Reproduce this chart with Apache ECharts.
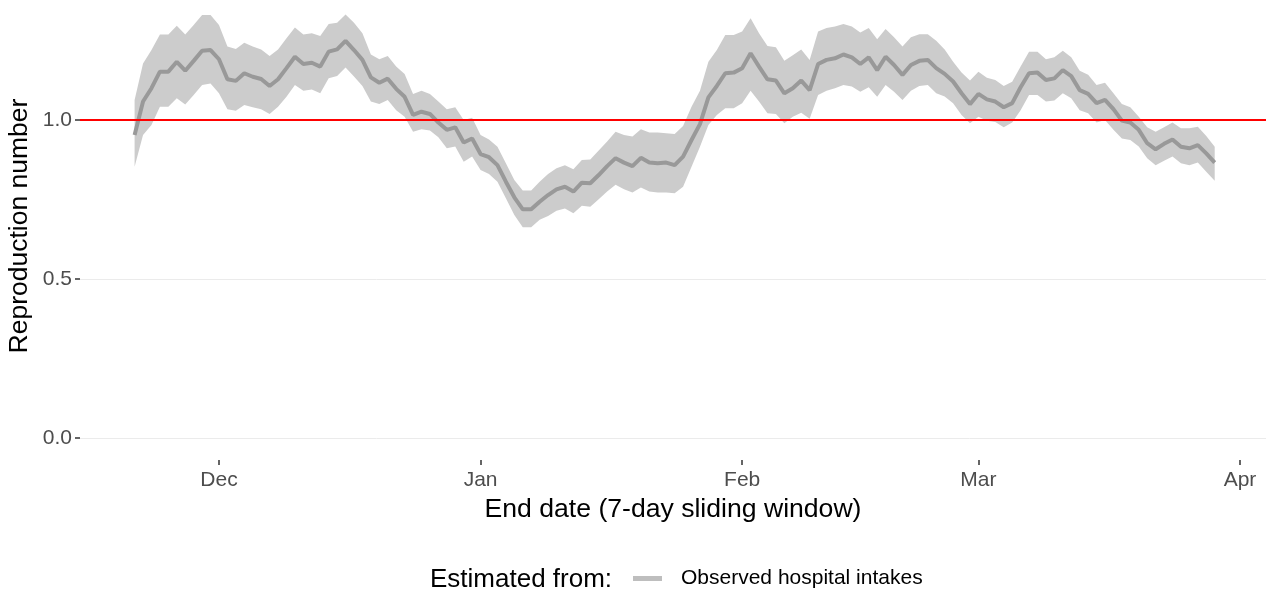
<!DOCTYPE html>
<html><head><meta charset="utf-8">
<script src="https://cdn.jsdelivr.net/npm/echarts@6/dist/echarts.min.js"></script>
<style>html,body{margin:0;padding:0;background:#fff}#c{width:1266px;height:591px}</style>
</head><body><div id="c"></div>
<script>
const startDate = '2020-11-21';
const monthTicks = ['2020-12-01','2021-01-01','2021-02-01','2021-03-01','2021-04-01'];
const monthLabels = ['Dec','Jan','Feb','Mar','Apr'];
const yTicks = [0, 0.5, 1.0];
const seriesName = 'Observed hospital intakes';

const meanR = [
0.953,1.058,1.100,1.152,1.152,1.183,1.155,1.186,1.218,1.220,
1.191,1.128,1.123,1.147,1.136,1.129,1.107,1.128,1.163,1.199,1.176,1.180,1.168,1.215,1.222,1.249,1.220,1.189,1.134,1.117,1.130,1.098,1.073,1.016,1.026,1.019,0.992,0.969,0.977,0.929,0.942,
0.893,0.883,0.858,0.806,0.757,0.719,0.719,0.743,0.764,0.782,0.790,0.775,0.803,0.801,0.827,0.855,0.880,0.866,0.855,0.881,0.866,0.864,0.866,0.858,0.885,0.937,0.987,1.071,1.107,1.147,1.149,
1.163,1.210,1.168,1.128,1.124,1.084,1.100,1.124,1.094,1.176,1.189,1.194,1.206,1.197,1.176,1.197,1.157,1.199,1.173,1.142,1.173,1.186,1.189,1.163,1.145,1.121,1.084,1.050,
1.082,1.065,1.058,1.040,1.053,1.103,1.147,1.149,1.126,1.131,1.157,1.138,1.094,1.082,1.053,1.063,1.034,0.998,0.992,0.969,0.927,0.908,0.925,0.939,0.916,0.911,0.921,0.895,0.866
];
const upperR = [
1.063,1.178,1.220,1.269,1.269,1.296,1.269,1.299,1.330,1.330,
1.299,1.231,1.223,1.243,1.231,1.222,1.201,1.222,1.257,1.291,1.269,1.273,1.264,1.302,1.306,1.332,1.306,1.273,1.206,1.191,1.201,1.168,1.145,1.082,1.092,1.082,1.058,1.034,1.040,1.000,1.007,
0.953,0.939,0.916,0.864,0.811,0.778,0.778,0.806,0.830,0.848,0.858,0.845,0.874,0.876,0.904,0.932,0.963,0.953,0.948,0.971,0.961,0.961,0.958,0.956,0.981,1.042,1.092,1.183,1.220,1.267,1.267,
1.278,1.320,1.273,1.233,1.229,1.186,1.204,1.222,1.189,1.278,1.289,1.294,1.302,1.294,1.275,1.289,1.254,1.286,1.260,1.231,1.260,1.270,1.270,1.249,1.222,1.183,1.149,1.124,
1.152,1.133,1.126,1.107,1.120,1.168,1.215,1.215,1.191,1.197,1.218,1.197,1.155,1.142,1.110,1.117,1.084,1.050,1.040,1.010,0.977,0.963,0.977,0.992,0.974,0.974,0.979,0.950,0.916
];
const lowerR = [
0.853,0.953,0.984,1.042,1.042,1.068,1.049,1.079,1.110,1.115,
1.084,1.034,1.029,1.047,1.040,1.034,1.019,1.042,1.073,1.110,1.092,1.096,1.084,1.131,1.138,1.165,1.137,1.107,1.058,1.050,1.063,1.031,1.010,0.963,0.971,0.967,0.946,0.911,0.917,0.869,0.885,
0.843,0.830,0.806,0.754,0.701,0.663,0.663,0.686,0.698,0.715,0.722,0.707,0.730,0.727,0.751,0.775,0.796,0.782,0.772,0.788,0.775,0.772,0.772,0.770,0.790,0.853,0.916,0.984,1.016,1.037,1.037,
1.053,1.092,1.058,1.021,1.019,0.990,1.010,1.023,1.004,1.079,1.092,1.100,1.110,1.105,1.089,1.103,1.073,1.110,1.089,1.063,1.092,1.107,1.110,1.084,1.074,1.053,1.016,0.990,
1.010,0.998,0.994,0.977,0.992,1.031,1.079,1.079,1.058,1.061,1.084,1.068,1.031,1.021,0.992,1.000,0.969,0.942,0.937,0.917,0.880,0.858,0.872,0.885,0.864,0.858,0.866,0.837,0.809
];

const DAY = 86400000;
const FONT = "'Liberation Sans', Arial, sans-serif";
const t0 = Date.parse(startDate + 'T00:00:00Z');
const dates = meanR.map((_, i) => t0 + i * DAY);
const tickTs = monthTicks.map(s => Date.parse(s + 'T00:00:00Z'));
const dec1 = tickTs[0];
const xMin = dec1 - 16.47 * DAY;
const xMax = dec1 + 124.08 * DAY;

const chart = echarts.init(document.getElementById('c'), null, {renderer: 'canvas'});
chart.setOption({
  animation: false,
  backgroundColor: '#ffffff',
  textStyle: {fontFamily: FONT},
  grid: {left: 80, right: 0, top: -39, bottom: 131, containLabel: false, outerBoundsMode: 'none'},
  xAxis: {
    type: 'value', min: xMin, max: xMax, scale: true,
    axisLine: {show: false, onZero: false},
    axisTick: {show: true, length: 5, customValues: tickTs, lineStyle: {color: '#333333', width: 1.5}},
    axisLabel: {
      customValues: tickTs, fontSize: 21, color: '#4d4d4d', margin: 10, fontFamily: FONT,
      formatter: v => { const i = tickTs.indexOf(Number(v)); return i >= 0 ? monthLabels[i] : ''; }
    },
    splitLine: {show: false},
    name: 'End date (7-day sliding window)', nameLocation: 'middle', nameGap: 34,
    nameTextStyle: {fontSize: 26.6, color: '#000000', fontFamily: FONT}
  },
  yAxis: {
    type: 'value', min: -0.0692, max: 1.5, splitNumber: 3,
    axisLine: {show: false, onZero: false},
    axisTick: {show: true, length: 5, customValues: yTicks, lineStyle: {color: '#333333', width: 1.5}},
    axisLabel: {customValues: yTicks, fontSize: 21, color: '#4d4d4d', margin: 8, fontFamily: FONT,
      formatter: v => Number(v).toFixed(1)},
    splitLine: {show: true, showMinLine: true, showMaxLine: true, lineStyle: {color: '#ebebeb', width: 1}}
  },
  legend: {
    data: [{name: seriesName, icon: 'rect', itemStyle: {color: '#bebebe'}}],
    left: 633, top: 568, itemWidth: 29, itemHeight: 5, selectedMode: false, padding: 0,
    textStyle: {fontSize: 21, color: '#000000', fontFamily: FONT, padding: [0, 0, 0, 14]}
  },
  graphic: [
    {type: 'text', x: 430, y: 580, style: {text: 'Estimated from:', fill: '#000000', font: "26px 'Liberation Sans', Arial, sans-serif", verticalAlign: 'middle', align: 'left'}},
    {type: 'text', x: 20, y: 226, rotation: Math.PI / 2, style: {text: 'Reproduction number', fill: '#000000', font: "26.5px 'Liberation Sans', Arial, sans-serif", verticalAlign: 'middle', align: 'center'}}
  ],
  series: [
    {name: 'band', type: 'custom', silent: true, z: 1, clip: true,
      data: dates.map((d, i) => [d, lowerR[i], upperR[i]]),
      encode: {x: 0, y: [1, 2]},
      renderItem: (params, api) => {
        if (params.dataIndex !== 0) return null;
        const pts = [];
        for (let i = 0; i < dates.length; i++) pts.push(api.coord([dates[i], upperR[i]]));
        for (let i = dates.length - 1; i >= 0; i--) pts.push(api.coord([dates[i], lowerR[i]]));
        return {type: 'polygon', shape: {points: pts}, style: {fill: '#cccccc', stroke: null}};
      }},
    {name: seriesName, type: 'line', symbol: 'none', z: 3,
      lineStyle: {color: '#999999', width: 4}, itemStyle: {color: '#999999'},
      data: dates.map((d, i) => [d, meanR[i]])},
    {name: 'ref', type: 'line', data: [], z: 5,
      markLine: {silent: true, symbol: ['none', 'none'], label: {show: false}, animation: false,
        lineStyle: {color: '#ff0000', width: 2, type: 'solid'}, data: [{yAxis: 1}]}}
  ]
});
</script></body></html>
